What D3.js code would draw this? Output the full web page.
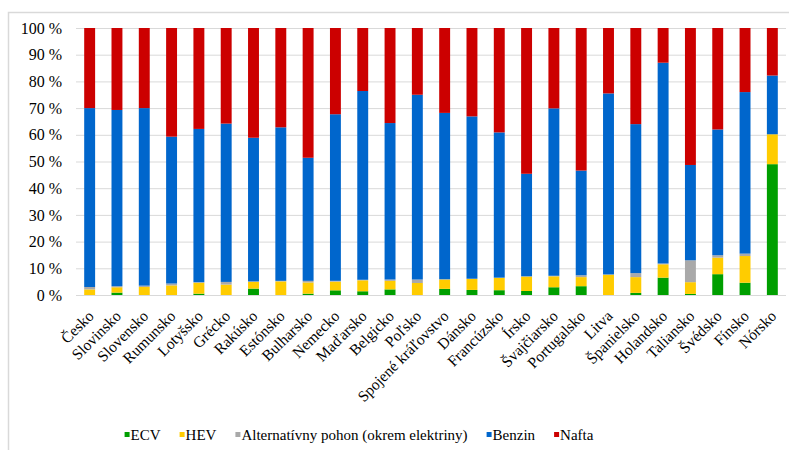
<!DOCTYPE html>
<html>
<head>
<meta charset="utf-8">
<script src="https://cdn.jsdelivr.net/npm/d3@7/dist/d3.min.js"></script>
<style>
  html, body { margin: 0; padding: 0; background: #fff; }
  svg text { font-family: "Liberation Serif", "Times New Roman", "Liberation Sans", Arial, sans-serif; }
</style>
</head>
<body>
<svg id="chart" width="789" height="450"></svg>
<script>
// Countries (x categories)
const countries = ["Česko", "Slovinsko", "Slovensko", "Rumunsko", "Lotyšsko", "Grécko", "Rakúsko",
  "Estónsko", "Bulharsko", "Nemecko", "Maďarsko", "Belgicko", "Poľsko", "Spojené kráľovstvo",
  "Dánsko", "Francúzsko", "Írsko", "Švajčiarsko", "Portugalsko", "Litva", "Španielsko",
  "Holandsko", "Taliansko", "Švédsko", "Fínsko", "Nórsko"];

// Share of new registrations by drive type, %
const ecv    = [0, 0.9, 0, 0, 0.5, 0, 2.4, 0, 0.5, 1.75, 1.4, 2.1, 0, 2.3, 1.9, 1.8, 1.5, 2.9, 3.3, 0, 0.8, 6.5, 0.4, 7.8, 4.6, 49];
const hev    = [2.1, 2.0, 3.0, 3.6, 4.1, 3.9, 2.5, 5.1, 4.2, 3.25, 4.1, 3.2, 4.5, 3.5, 4.1, 4.6, 5.4, 4.1, 3.4, 7.6, 5.9, 5.0, 4.4, 6.2, 10.0, 11.2];
const alt    = [0.9, 0.4, 0.5, 0.7, 0.2, 1.0, 0.2, 0.2, 0.6, 0.3, 0.2, 0.5, 1.3, 0.1, 0.1, 0.1, 0.1, 0.2, 0.7, 0.1, 1.5, 0.3, 8.2, 0.9, 0.9, 0];
const benzin = [67, 66, 66.5, 55, 57.4, 59.3, 53.8, 57.5, 46.1, 62.4, 70.7, 58.6, 69.2, 62.3, 60.8, 54.4, 38.4, 62.7, 39.2, 67.8, 55.8, 75.2, 35.7, 47.1, 60.5, 22];
const nafta  = [30, 30.7, 30, 40.7, 37.8, 35.8, 41.1, 37.2, 48.6, 32.3, 23.6, 35.6, 25, 31.8, 33.1, 39.1, 54.6, 30.1, 53.4, 24.5, 36, 13, 51.3, 38, 24, 17.8];

const seriesNames = ["ECV", "HEV", "Alternatívny pohon (okrem elektriny)", "Benzin", "Nafta"];
const seriesColors = ["#009f00", "#ffcc00", "#a9a9a9", "#0066cc", "#cc0000"];
const yTicks = [0, 10, 20, 30, 40, 50, 60, 70, 80, 90, 100];

const svg = d3.select("#chart");

// Light frame (top and left edges)
svg.append("path")
  .attr("d", "M8.5,450 L8.5,12.5 L789,12.5")
  .attr("fill", "none")
  .attr("stroke", "#d9d9d9")
  .attr("stroke-width", 1.5);

const plot = { left: 76, right: 786, top: 28, bottom: 295 };

const x = d3.scaleBand()
  .domain(countries)
  .range([plot.left, plot.right])
  .paddingInner(0.6)
  .paddingOuter(0.3);

const y = d3.scaleLinear()
  .domain([0, 100])
  .range([plot.bottom, plot.top]);

// Horizontal gridlines
svg.append("g")
  .selectAll("line")
  .data(yTicks)
  .join("line")
  .attr("x1", plot.left)
  .attr("x2", plot.right)
  .attr("y1", d => y(d) + 0.5)
  .attr("y2", d => y(d) + 0.5)
  .attr("stroke", "#d9d9d9")
  .attr("stroke-width", 1);

// Y axis labels
const yAxis = d3.axisLeft(y)
  .tickValues(yTicks)
  .tickFormat(d => d + " %")
  .tickSize(0)
  .tickPadding(0);

const yg = svg.append("g")
  .attr("transform", `translate(${plot.left - 14},0)`)
  .call(yAxis)
  .attr("font-family", null)
  .attr("font-size", null);
yg.select(".domain").remove();
yg.selectAll("text")
  .style("font-size", "16px")
  .attr("fill", "#000");

// Stacked data
const rows = countries.map((c, i) => ({
  country: c,
  s0: ecv[i], s1: hev[i], s2: alt[i], s3: benzin[i], s4: nafta[i]
}));
const keys = ["s0", "s1", "s2", "s3", "s4"];
const stacked = d3.stack().keys(keys).offset(d3.stackOffsetExpand)(rows);

svg.append("g")
  .selectAll("g")
  .data(stacked)
  .join("g")
  .attr("fill", (d, i) => seriesColors[i])
  .selectAll("rect")
  .data(d => d)
  .join("rect")
  .attr("x", d => x(d.data.country))
  .attr("width", x.bandwidth())
  .attr("y", d => y(d[1] * 100))
  .attr("height", d => Math.max(0, y(d[0] * 100) - y(d[1] * 100)));

// X axis labels, rotated
const xAxis = d3.axisBottom(x).tickSize(0).tickPadding(0);
const xg = svg.append("g")
  .attr("transform", `translate(0,${plot.bottom})`)
  .call(xAxis)
  .attr("font-family", null)
  .attr("font-size", null);
xg.select(".domain").remove();
xg.selectAll("text")
  .style("font-size", "15.5px")
  .attr("fill", "#000")
  .attr("text-anchor", "end")
  .attr("dy", null)
  .attr("y", 0)
  .attr("transform", "translate(5,22) rotate(-45)");

// Legend
const legend = svg.append("g").attr("transform", "translate(0,440)");
const items = legend.selectAll("g")
  .data(seriesNames)
  .join("g");
items.append("rect")
  .attr("width", 5)
  .attr("height", 5)
  .attr("y", -8)
  .attr("fill", (d, i) => seriesColors[i]);
items.append("text")
  .attr("x", 6)
  .style("font-size", "15px")
  .attr("fill", "#000")
  .text(d => d);

let widths = [];
items.each(function () {
  widths.push(6 + d3.select(this).select("text").node().getComputedTextLength());
});
const gap = 19;
const total = d3.sum(widths) + gap * (widths.length - 1);
let cx = 359 - total / 2;
items.each(function (d, i) {
  d3.select(this).attr("transform", `translate(${cx},0)`);
  cx += widths[i] + gap;
});
</script>
</body>
</html>
